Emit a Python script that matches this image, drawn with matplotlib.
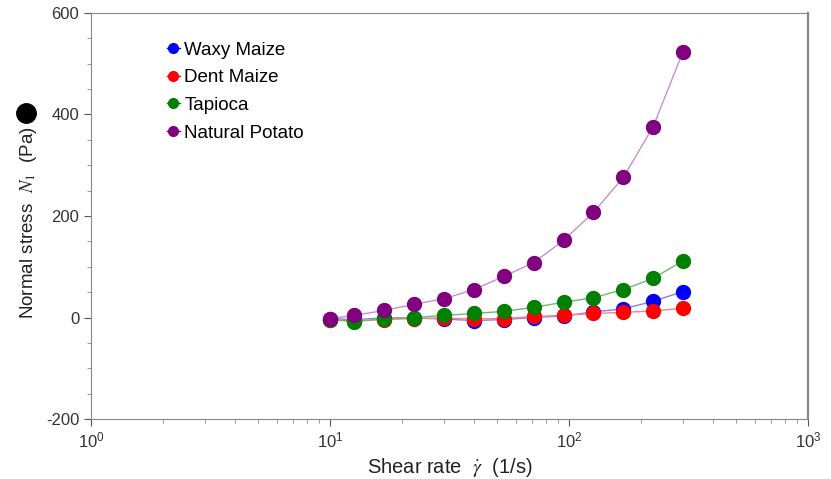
import numpy as np
import matplotlib.pyplot as plt
from matplotlib.lines import Line2D

plt.rcParams['font.family'] = ['Liberation Sans', 'DejaVu Sans']
plt.rcParams['axes.unicode_minus'] = False
plt.rcParams['mathtext.fontset'] = 'stix'

shear = [10, 12.6, 16.9, 22.5, 30, 40, 53.3, 71.1, 94.9, 126.5, 168.7, 225, 300]
waxy = [-2, -4, -1, -1, -3, -6, -4, 0, 3, 11, 17, 32, 51]
dent = [-4, -7, -4, -2, -1, -3, -2, 2, 4, 8, 10, 13, 18]
tapioca = [-4, -8, -2, 0, 4, 8, 12, 20, 30, 39, 55, 77, 112]
potato = [-2, 4, 14, 26, 37, 55, 81, 108, 152, 207, 276, 376, 524]

names = ['Waxy Maize', 'Dent Maize', 'Tapioca', 'Natural Potato']
series = [waxy, dent, tapioca, potato]
colors = ['blue', 'red', 'green', 'purple']
line_colors = ['#8080ff', '#ff8080', '#70b870', '#c890c8']

fig = plt.figure(figsize=(8.31, 4.79), dpi=100)
ax = fig.add_axes([91/831, 1-419/479, (808-91)/831, (419-13)/479])

for name, y, c, lc in zip(names, series, colors, line_colors):
    ax.plot(shear, y, color=lc, lw=1, zorder=2)
    ax.plot(shear, y, 'o', color=c, ms=10, zorder=3)
    # legend proxy: marker on a short line
    ax.plot([], [], 'o-', color=c, ms=7, lw=1, label=name)

ax.set_xscale('log')
ax.set_xlim(1, 1000)
ax.set_ylim(-200, 600)
ax.set_yticks([-200, 0, 200, 400, 600])
ax.set_yticks(np.arange(-200, 601, 50), minor=True)

for s in ax.spines.values():
    s.set_color('#888888')
ax.spines['right'].set_linewidth(1.6)
ax.tick_params(colors='#555555', labelcolor='#333333', labelsize=12)
ax.tick_params(which='minor', colors='#888888')
ax.tick_params(which='major', length=5)
ax.tick_params(which='minor', length=3)

ax.set_xlabel(r'Shear rate  $\dot{\gamma}$  (1/s)', fontsize=14.5, color='#222222', labelpad=4)

# y label drawn by hand so the filled circle can sit above it
fig.text(29/831, 1-319/479, r'Normal stress  $N_{\mathit{1}}$  (Pa)', rotation=90,
         fontsize=13.5, color='#222222', ha='center', va='bottom')
fig.add_artist(Line2D([26/831], [1-113/479], marker='o', ms=14, color='black',
                      transform=fig.transFigure))

leg = ax.legend(loc='upper left', bbox_to_anchor=(0.095, 0.948), frameon=False,
                fontsize=13.5, handlelength=0.7, handletextpad=0.25, labelspacing=0.56,
                borderaxespad=0)

fig.savefig('out.png', dpi=100)
